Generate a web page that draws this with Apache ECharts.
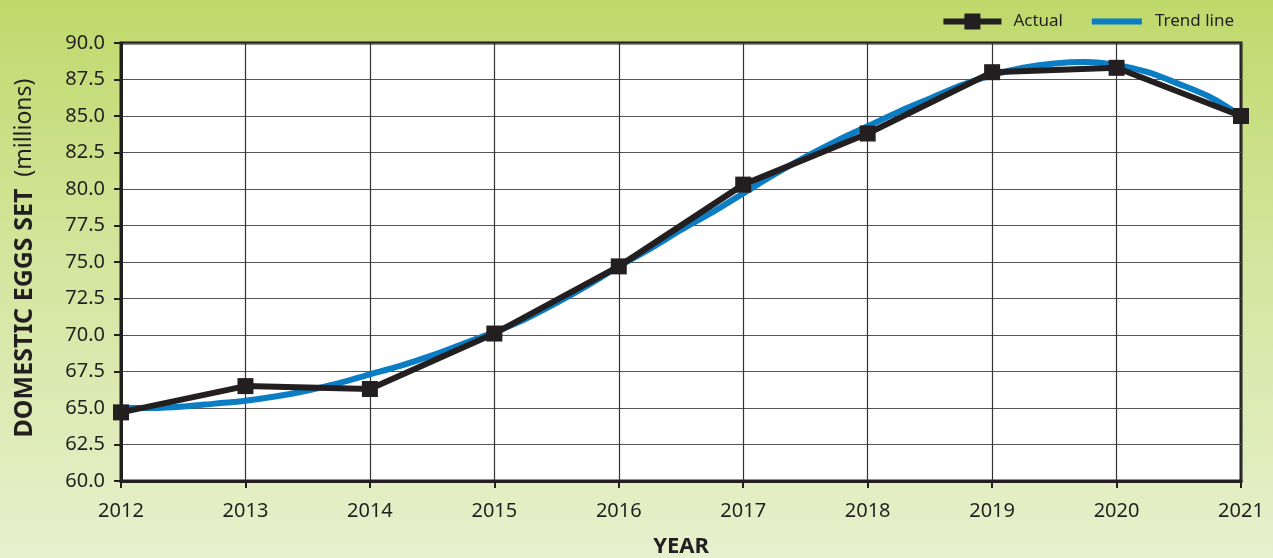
<!DOCTYPE html>
<html><head><meta charset="utf-8">
<script src="https://cdn.jsdelivr.net/npm/echarts@6/dist/echarts.min.js"></script>
<style>
html,body{margin:0;padding:0;}
body{width:1273px;height:558px;background:linear-gradient(to bottom,#bfd96b 0%,#d3e59c 45%,#e7f0cd 100%);}
#c{width:1273px;height:558px;}
</style></head><body><div id="c"></div>
<script>
const years = [2012,2013,2014,2015,2016,2017,2018,2019,2020,2021];
const actual = [64.7,66.5,66.3,70.1,74.7,80.3,83.8,88.0,88.3,85.0];
const trendYears = [2012,2012.25,2012.5,2012.75,2013,2013.25,2013.5,2013.75,2014,2014.25,2014.5,2014.75,2015,2015.25,2015.5,2015.75,2016,2016.25,2016.5,2016.75,2017,2017.25,2017.5,2017.75,2018,2018.25,2018.5,2018.75,2019,2019.25,2019.5,2019.75,2020,2020.25,2020.5,2020.75,2021];
const trendVals = [65.0,65.0,65.1,65.3,65.5,65.8,66.2,66.7,67.3,67.9,68.6,69.4,70.2,71.1,72.2,73.4,74.7,75.9,77.2,78.4,79.7,81.0,82.2,83.3,84.3,85.3,86.2,87.1,87.8,88.3,88.6,88.7,88.5,88.0,87.2,86.3,85.0];
const yTicks = {min:60, max:90, interval:2.5};
const font = '"Noto Sans", "Open Sans", sans-serif';
const txt = '#231f20';

const chart = echarts.init(document.getElementById('c'));
chart.setOption({
  backgroundColor:'transparent',
  animation:false,
  grid:{left:121,right:32,top:43,bottom:77,outerBoundsMode:'none',containLabel:false,show:true,backgroundColor:'#ffffff',borderColor:txt,borderWidth:3},
  legend:[{
    right:205, top:8, itemWidth:58, itemHeight:16, itemGap:12,
    textStyle:{fontFamily:font,fontSize:17,color:txt,padding:[0,0,0,7]},
    data:[{name:'Actual',icon:'path://M0,5 L21,5 L21,0 L37,0 L37,5 L58,5 L58,11 L37,11 L37,16 L21,16 L21,11 L0,11 Z'}]
  },{
    right:34, top:8, itemWidth:50, itemHeight:6,
    textStyle:{fontFamily:font,fontSize:17,color:txt,padding:[0,0,0,8]},
    data:[{name:'Trend line',icon:'rect'}]
  }],
  xAxis:{
    type:'value', min:2012, max:2021, interval:1,
    name:'YEAR', nameLocation:'middle', nameGap:55,
    nameTextStyle:{fontFamily:font,fontSize:22,fontWeight:'bold',color:txt},
    axisLine:{show:true,lineStyle:{color:txt,width:3}},
    axisTick:{show:true,length:7,lineStyle:{color:txt,width:2}},
    axisLabel:{fontFamily:font,fontSize:20,color:txt,margin:20,formatter:v=>String(v)},
    splitLine:{show:true,lineStyle:{color:'#333333',width:1.2}}
  },
  yAxis:{
    type:'value', min:yTicks.min, max:yTicks.max, interval:yTicks.interval,
    name:'{b|DOMESTIC EGGS SET}{r|  (millions)}', nameLocation:'middle', nameGap:84, nameRotate:90,
    nameTextStyle:{padding:[0,0,0,8],rich:{b:{fontFamily:font,fontSize:25,fontWeight:'bold',color:txt},r:{fontFamily:font,fontSize:23,color:txt}}},
    axisLine:{show:true,lineStyle:{color:txt,width:3}},
    axisTick:{show:true,length:7,lineStyle:{color:txt,width:2}},
    axisLabel:{fontFamily:font,fontSize:20,color:txt,margin:16,formatter:v=>v.toFixed(1)},
    splitLine:{show:true,lineStyle:{color:'#555555',width:1.2}}
  },
  series:[
    {name:'Trend line',type:'line',smooth:0.3,showSymbol:false,symbol:'none',
     data:trendYears.map((y,i)=>[y,trendVals[i]]),
     lineStyle:{color:'#0a7dc4',width:6},itemStyle:{color:'#0a7dc4'},z:2},
    {name:'Actual',type:'line',symbol:'rect',symbolSize:16,
     data:years.map((y,i)=>[y,actual[i]]),
     lineStyle:{color:txt,width:6},itemStyle:{color:txt},z:3}
  ]
});
</script></body></html>
